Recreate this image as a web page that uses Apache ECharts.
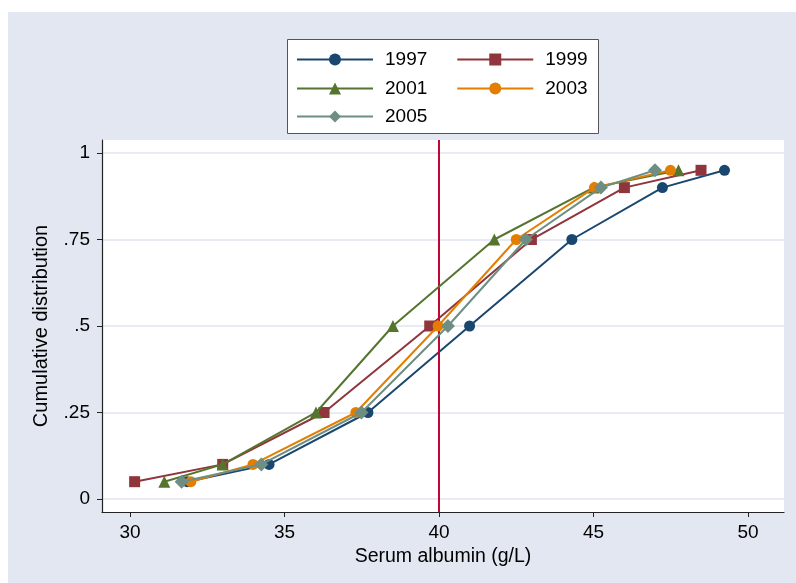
<!DOCTYPE html>
<html>
<head>
<meta charset="utf-8">
<script src="https://cdn.jsdelivr.net/npm/echarts@6/dist/echarts.min.js"></script>
<style>html,body{margin:0;padding:0;background:#fff}#c{width:796px;height:583px}</style>
</head>
<body>
<div id="c"></div>
<script>
var yLevels = [0.05, 0.10, 0.25, 0.50, 0.75, 0.90, 0.95];
var s1997 = [31.85, 34.50, 37.70, 40.99, 44.30, 47.23, 49.24];
var s1999 = [30.15, 33.00, 36.28, 39.70, 42.99, 46.00, 48.48];
var s2001 = [31.11, 33.00, 36.02, 38.51, 41.79, 45.00, 47.75];
var s2003 = [31.97, 33.98, 37.31, 39.97, 42.50, 45.03, 47.49];
var s2005 = [31.67, 34.25, 37.49, 40.29, 42.81, 45.24, 46.99];
var xTicks = [30, 35, 40, 45, 50];
var yTicks = [0, 0.25, 0.5, 0.75, 1];
var yTickLabels = ['0', '.25', '.5', '.75', '1'];
var refX = 40;

function pairs(xs) { return xs.map(function (x, i) { return [x, yLevels[i]]; }); }

var seriesDefs = [
  { name: '1997', data: s1997, color: '#1a476f', symbol: 'circle', size: 11 },
  { name: '1999', data: s1999, color: '#90353b', symbol: 'rect', size: 11 },
  { name: '2001', data: s2001, color: '#55752f', symbol: 'triangle', size: 12 },
  { name: '2003', data: s2003, color: '#e37e00', symbol: 'circle', size: 11 },
  { name: '2005', data: s2005, color: '#6e8e84', symbol: 'diamond', size: 14 }
];

var series = seriesDefs.map(function (d, i) {
  var s = {
    name: d.name, type: 'line', data: pairs(d.data),
    symbol: d.symbol, symbolSize: d.size, showAllSymbol: true,
    lineStyle: { color: d.color, width: 2 },
    itemStyle: { color: d.color },
    emphasis: { disabled: true }, animation: false, z: 3 + i
  };
  if (i === 0) {
    s.markLine = {
      silent: true, symbol: 'none', label: { show: false },
      lineStyle: { color: '#c10534', width: 2, type: 'solid' },
      data: [{ xAxis: refX }], animation: false
    };
  }
  return s;
});

var FONT = 'Liberation Sans, Arial, sans-serif';
var legendText = { fontFamily: FONT, fontSize: 19, color: '#000', padding: [0, 0, 0, 7] };
function mkLegend(names, top) {
  return {
    data: names, left: 296, top: top, orient: 'horizontal',
    itemWidth: 76, itemHeight: 15, itemGap: 29, padding: 0,
    textStyle: legendText, selectedMode: false
  };
}

var chart = echarts.init(document.getElementById('c'), null, { renderer: 'canvas' });
chart.setOption({
  backgroundColor: '#ffffff',
  animation: false,
  graphic: [
    { type: 'rect', left: 8, top: 12, shape: { width: 788, height: 571 }, style: { fill: '#e2e7f1' }, z: -10, silent: true },
    { type: 'rect', left: 287, top: 39, shape: { width: 311, height: 94 }, style: { fill: '#ffffff', stroke: '#555555', lineWidth: 1 }, z: 0, silent: true }
  ],
  legend: [
    mkLegend(['1997', '1999'], 50),
    mkLegend(['2001', '2003'], 79),
    mkLegend(['2005'], 107)
  ],
  grid: { left: 102, top: 140, right: 12, bottom: 71, show: true, backgroundColor: '#ffffff', borderWidth: 0, containLabel: false },
  xAxis: {
    type: 'value', min: 29.094, max: 51.165,
    name: 'Serum albumin (g/L)', nameLocation: 'middle', nameGap: 35,
    nameTextStyle: { fontFamily: FONT, fontSize: 19.5, color: '#000' },
    axisLine: { show: true, onZero: false, lineStyle: { color: '#222', width: 1.2 } },
    axisTick: { show: true, length: 5, inside: false, customValues: xTicks, lineStyle: { color: '#222', width: 1 } },
    axisLabel: { customValues: xTicks, margin: 11, fontFamily: FONT, fontSize: 19, color: '#000' },
    splitLine: { show: false }
  },
  yAxis: {
    type: 'value', min: -0.0376, max: 1.0376,
    name: 'Cumulative distribution', nameLocation: 'middle', nameGap: 51,
    nameTextStyle: { fontFamily: FONT, fontSize: 20, color: '#000' },
    axisLine: { show: true, onZero: false, lineStyle: { color: '#222', width: 1.2 } },
    axisTick: { show: true, length: 5, inside: false, customValues: yTicks, lineStyle: { color: '#222', width: 1 } },
    axisLabel: {
      customValues: yTicks, margin: 12, fontFamily: FONT, fontSize: 19, color: '#000',
      formatter: function (v) { var i = yTicks.indexOf(Math.round(v * 100) / 100); return i >= 0 ? yTickLabels[i] : ''; }
    },
    splitLine: { show: true, lineStyle: { color: '#e0e5ef', width: 1.5 } }
  },
  series: series
});
</script>
</body>
</html>
